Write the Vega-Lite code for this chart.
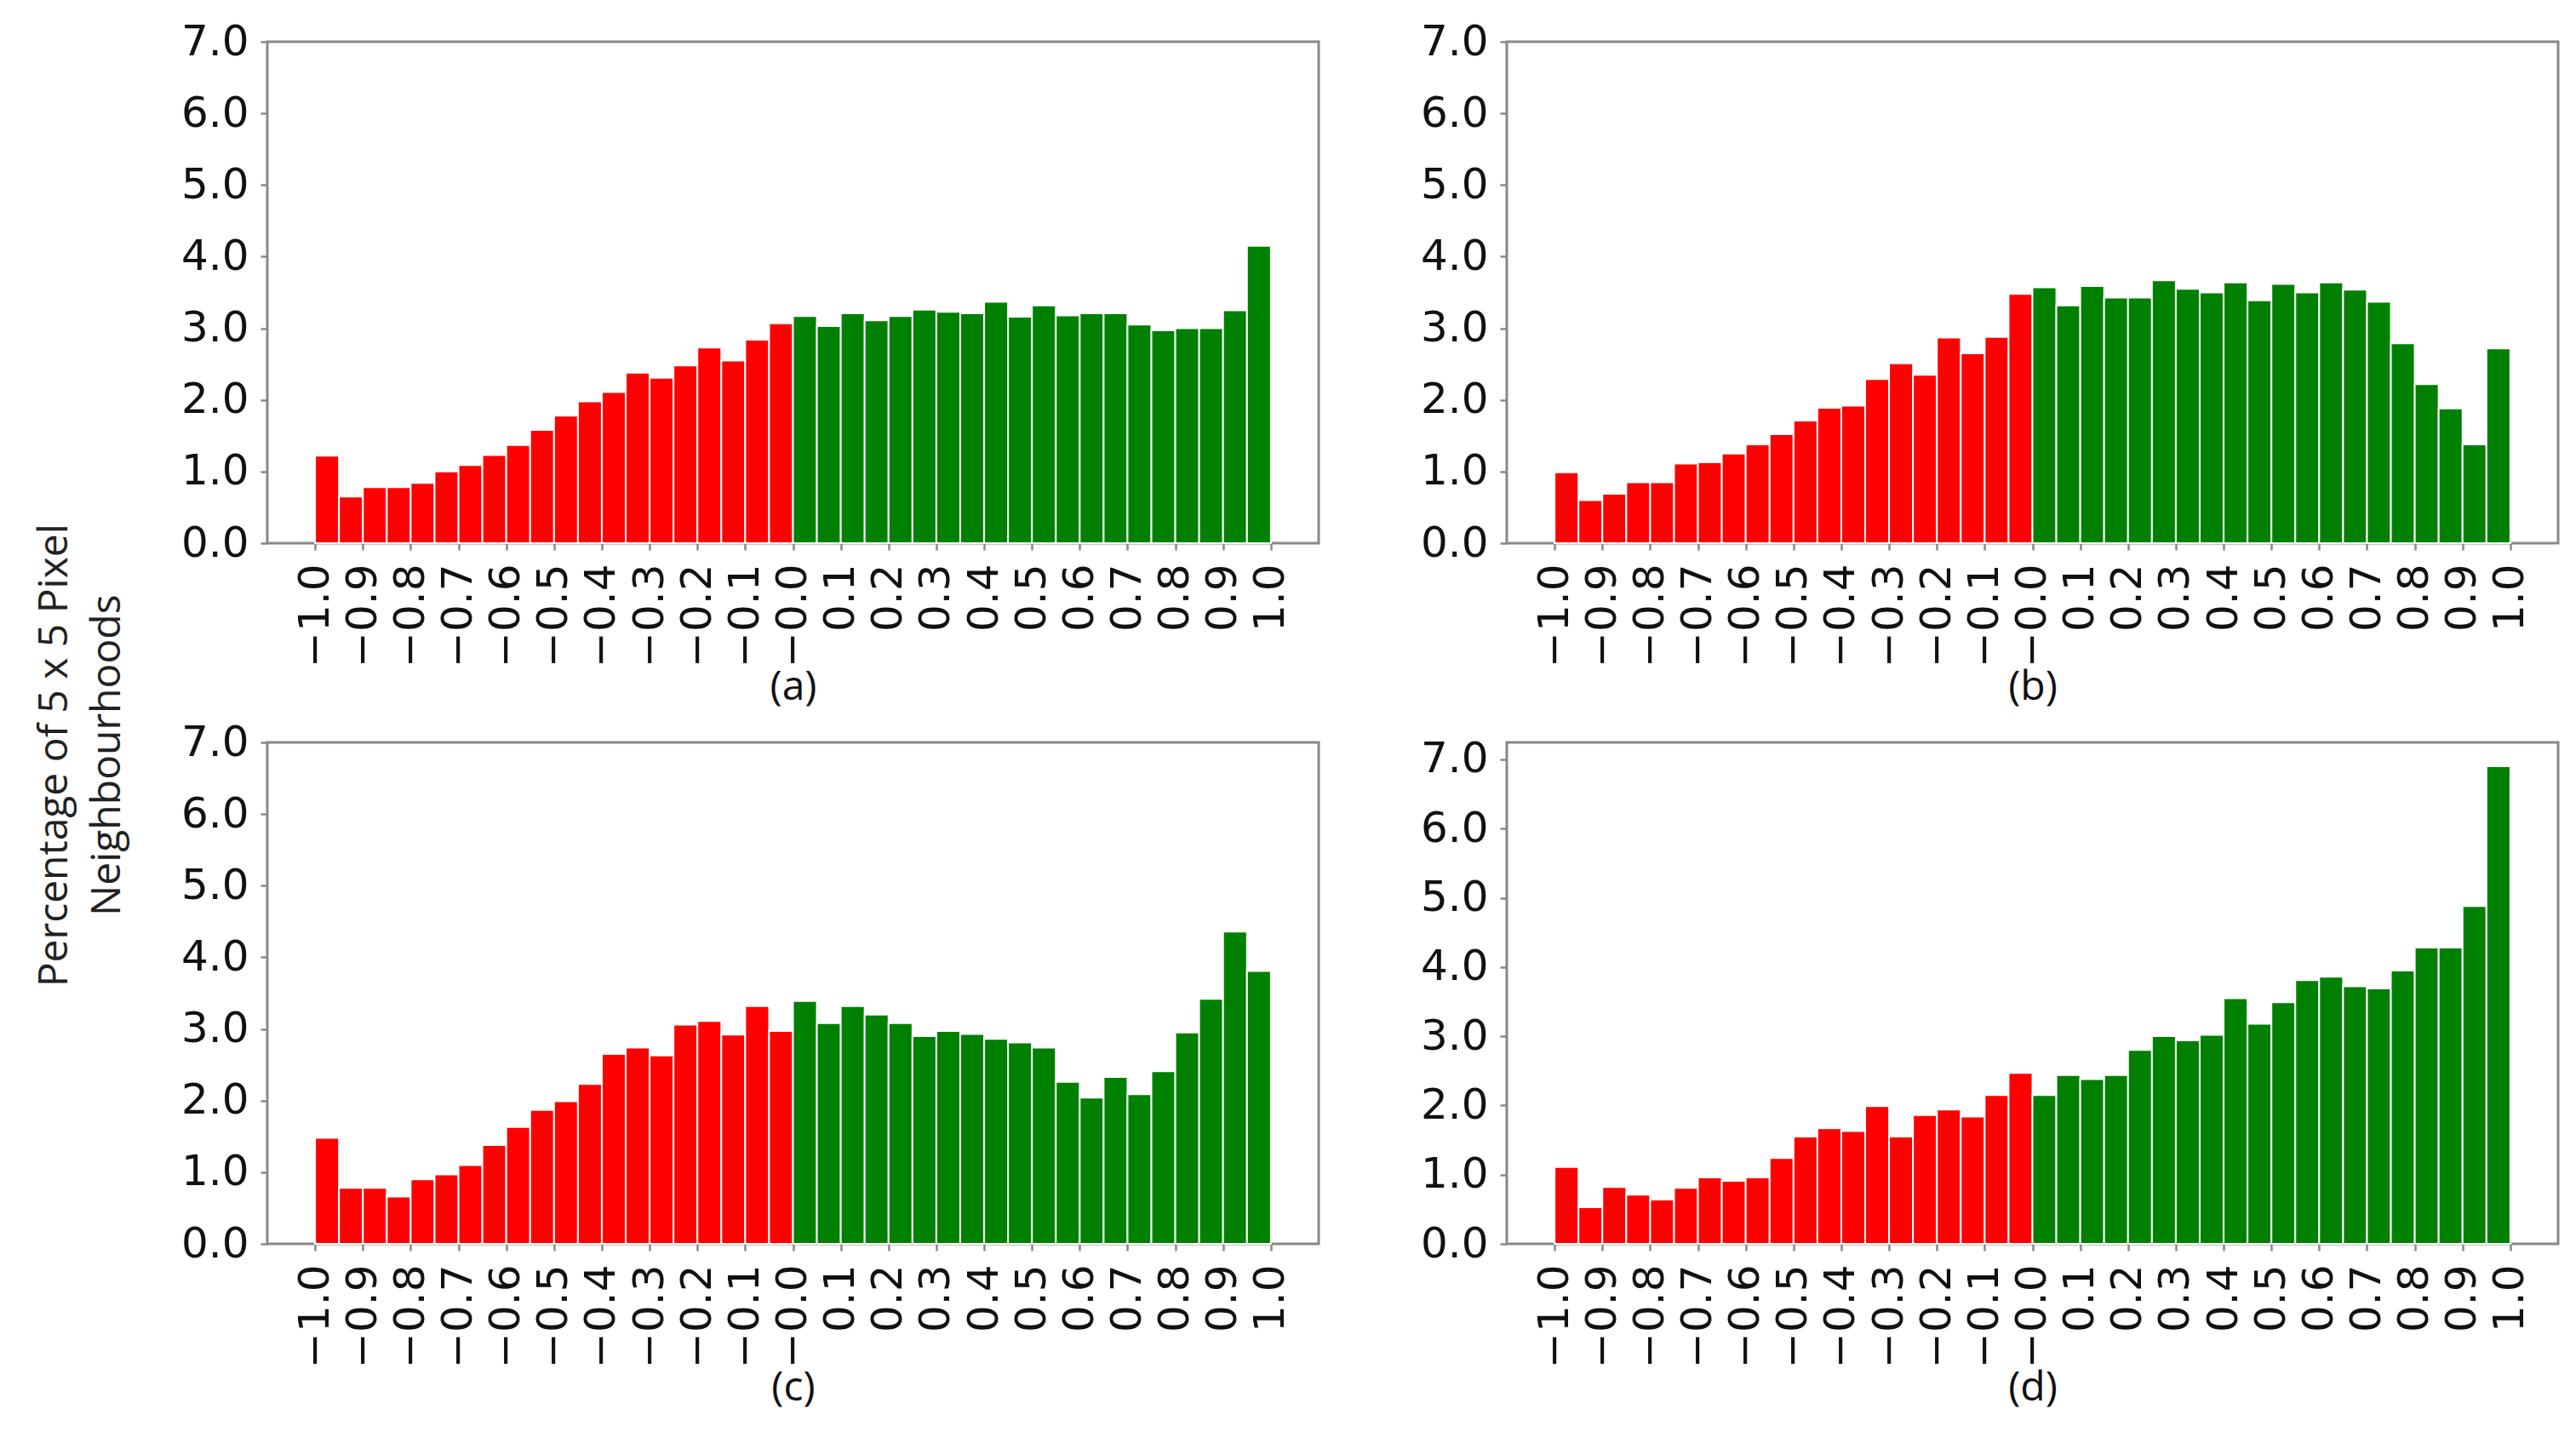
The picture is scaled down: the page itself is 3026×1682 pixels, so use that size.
{
  "$schema": "https://vega.github.io/schema/vega-lite/v6.json",
  "background": "white",
  "padding": {"left": 40, "top": 22, "right": 0, "bottom": 16},
  "datasets": {
    "a": [
      {"lo": -1.0, "hi": -0.95, "v": 1.22}, {"lo": -0.95, "hi": -0.9, "v": 0.65}, {"lo": -0.9, "hi": -0.85, "v": 0.78}, {"lo": -0.85, "hi": -0.8, "v": 0.78},
      {"lo": -0.8, "hi": -0.75, "v": 0.84}, {"lo": -0.75, "hi": -0.7, "v": 1.00}, {"lo": -0.7, "hi": -0.65, "v": 1.09}, {"lo": -0.65, "hi": -0.6, "v": 1.23},
      {"lo": -0.6, "hi": -0.55, "v": 1.37}, {"lo": -0.55, "hi": -0.5, "v": 1.58}, {"lo": -0.5, "hi": -0.45, "v": 1.78}, {"lo": -0.45, "hi": -0.4, "v": 1.98},
      {"lo": -0.4, "hi": -0.35, "v": 2.11}, {"lo": -0.35, "hi": -0.3, "v": 2.38}, {"lo": -0.3, "hi": -0.25, "v": 2.31}, {"lo": -0.25, "hi": -0.2, "v": 2.48},
      {"lo": -0.2, "hi": -0.15, "v": 2.73}, {"lo": -0.15, "hi": -0.1, "v": 2.55}, {"lo": -0.1, "hi": -0.05, "v": 2.84}, {"lo": -0.05, "hi": 0.0, "v": 3.07},
      {"lo": 0.0, "hi": 0.05, "v": 3.17}, {"lo": 0.05, "hi": 0.1, "v": 3.03}, {"lo": 0.1, "hi": 0.15, "v": 3.21}, {"lo": 0.15, "hi": 0.2, "v": 3.11},
      {"lo": 0.2, "hi": 0.25, "v": 3.17}, {"lo": 0.25, "hi": 0.3, "v": 3.26}, {"lo": 0.3, "hi": 0.35, "v": 3.23}, {"lo": 0.35, "hi": 0.4, "v": 3.21},
      {"lo": 0.4, "hi": 0.45, "v": 3.37}, {"lo": 0.45, "hi": 0.5, "v": 3.16}, {"lo": 0.5, "hi": 0.55, "v": 3.32}, {"lo": 0.55, "hi": 0.6, "v": 3.18},
      {"lo": 0.6, "hi": 0.65, "v": 3.21}, {"lo": 0.65, "hi": 0.7, "v": 3.21}, {"lo": 0.7, "hi": 0.75, "v": 3.05}, {"lo": 0.75, "hi": 0.8, "v": 2.97},
      {"lo": 0.8, "hi": 0.85, "v": 3.00}, {"lo": 0.85, "hi": 0.9, "v": 3.00}, {"lo": 0.9, "hi": 0.95, "v": 3.25}, {"lo": 0.95, "hi": 1.0, "v": 4.15}
    ],
    "b": [
      {"lo": -1.0, "hi": -0.95, "v": 0.99}, {"lo": -0.95, "hi": -0.9, "v": 0.60}, {"lo": -0.9, "hi": -0.85, "v": 0.69}, {"lo": -0.85, "hi": -0.8, "v": 0.85},
      {"lo": -0.8, "hi": -0.75, "v": 0.85}, {"lo": -0.75, "hi": -0.7, "v": 1.11}, {"lo": -0.7, "hi": -0.65, "v": 1.13}, {"lo": -0.65, "hi": -0.6, "v": 1.25},
      {"lo": -0.6, "hi": -0.55, "v": 1.38}, {"lo": -0.55, "hi": -0.5, "v": 1.52}, {"lo": -0.5, "hi": -0.45, "v": 1.71}, {"lo": -0.45, "hi": -0.4, "v": 1.89},
      {"lo": -0.4, "hi": -0.35, "v": 1.92}, {"lo": -0.35, "hi": -0.3, "v": 2.29}, {"lo": -0.3, "hi": -0.25, "v": 2.51}, {"lo": -0.25, "hi": -0.2, "v": 2.35},
      {"lo": -0.2, "hi": -0.15, "v": 2.87}, {"lo": -0.15, "hi": -0.1, "v": 2.65}, {"lo": -0.1, "hi": -0.05, "v": 2.88}, {"lo": -0.05, "hi": 0.0, "v": 3.48},
      {"lo": 0.0, "hi": 0.05, "v": 3.57}, {"lo": 0.05, "hi": 0.1, "v": 3.32}, {"lo": 0.1, "hi": 0.15, "v": 3.59}, {"lo": 0.15, "hi": 0.2, "v": 3.43},
      {"lo": 0.2, "hi": 0.25, "v": 3.43}, {"lo": 0.25, "hi": 0.3, "v": 3.67}, {"lo": 0.3, "hi": 0.35, "v": 3.55}, {"lo": 0.35, "hi": 0.4, "v": 3.50},
      {"lo": 0.4, "hi": 0.45, "v": 3.64}, {"lo": 0.45, "hi": 0.5, "v": 3.39}, {"lo": 0.5, "hi": 0.55, "v": 3.62}, {"lo": 0.55, "hi": 0.6, "v": 3.50},
      {"lo": 0.6, "hi": 0.65, "v": 3.64}, {"lo": 0.65, "hi": 0.7, "v": 3.54}, {"lo": 0.7, "hi": 0.75, "v": 3.37}, {"lo": 0.75, "hi": 0.8, "v": 2.79},
      {"lo": 0.8, "hi": 0.85, "v": 2.22}, {"lo": 0.85, "hi": 0.9, "v": 1.88}, {"lo": 0.9, "hi": 0.95, "v": 1.38}, {"lo": 0.95, "hi": 1.0, "v": 2.72}
    ],
    "c": [
      {"lo": -1.0, "hi": -0.95, "v": 1.48}, {"lo": -0.95, "hi": -0.9, "v": 0.78}, {"lo": -0.9, "hi": -0.85, "v": 0.78}, {"lo": -0.85, "hi": -0.8, "v": 0.66},
      {"lo": -0.8, "hi": -0.75, "v": 0.90}, {"lo": -0.75, "hi": -0.7, "v": 0.97}, {"lo": -0.7, "hi": -0.65, "v": 1.10}, {"lo": -0.65, "hi": -0.6, "v": 1.38},
      {"lo": -0.6, "hi": -0.55, "v": 1.63}, {"lo": -0.55, "hi": -0.5, "v": 1.87}, {"lo": -0.5, "hi": -0.45, "v": 1.99}, {"lo": -0.45, "hi": -0.4, "v": 2.23},
      {"lo": -0.4, "hi": -0.35, "v": 2.65}, {"lo": -0.35, "hi": -0.3, "v": 2.74}, {"lo": -0.3, "hi": -0.25, "v": 2.63}, {"lo": -0.25, "hi": -0.2, "v": 3.06},
      {"lo": -0.2, "hi": -0.15, "v": 3.11}, {"lo": -0.15, "hi": -0.1, "v": 2.92}, {"lo": -0.1, "hi": -0.05, "v": 3.32}, {"lo": -0.05, "hi": 0.0, "v": 2.97},
      {"lo": 0.0, "hi": 0.05, "v": 3.39}, {"lo": 0.05, "hi": 0.1, "v": 3.08}, {"lo": 0.1, "hi": 0.15, "v": 3.32}, {"lo": 0.15, "hi": 0.2, "v": 3.20},
      {"lo": 0.2, "hi": 0.25, "v": 3.08}, {"lo": 0.25, "hi": 0.3, "v": 2.90}, {"lo": 0.3, "hi": 0.35, "v": 2.97}, {"lo": 0.35, "hi": 0.4, "v": 2.93},
      {"lo": 0.4, "hi": 0.45, "v": 2.86}, {"lo": 0.45, "hi": 0.5, "v": 2.81}, {"lo": 0.5, "hi": 0.55, "v": 2.74}, {"lo": 0.55, "hi": 0.6, "v": 2.26},
      {"lo": 0.6, "hi": 0.65, "v": 2.04}, {"lo": 0.65, "hi": 0.7, "v": 2.33}, {"lo": 0.7, "hi": 0.75, "v": 2.09}, {"lo": 0.75, "hi": 0.8, "v": 2.41},
      {"lo": 0.8, "hi": 0.85, "v": 2.95}, {"lo": 0.85, "hi": 0.9, "v": 3.42}, {"lo": 0.9, "hi": 0.95, "v": 4.36}, {"lo": 0.95, "hi": 1.0, "v": 3.81}
    ],
    "d": [
      {"lo": -1.0, "hi": -0.95, "v": 1.11}, {"lo": -0.95, "hi": -0.9, "v": 0.53}, {"lo": -0.9, "hi": -0.85, "v": 0.82}, {"lo": -0.85, "hi": -0.8, "v": 0.71},
      {"lo": -0.8, "hi": -0.75, "v": 0.64}, {"lo": -0.75, "hi": -0.7, "v": 0.81}, {"lo": -0.7, "hi": -0.65, "v": 0.96}, {"lo": -0.65, "hi": -0.6, "v": 0.91},
      {"lo": -0.6, "hi": -0.55, "v": 0.96}, {"lo": -0.55, "hi": -0.5, "v": 1.24}, {"lo": -0.5, "hi": -0.45, "v": 1.55}, {"lo": -0.45, "hi": -0.4, "v": 1.67},
      {"lo": -0.4, "hi": -0.35, "v": 1.63}, {"lo": -0.35, "hi": -0.3, "v": 1.99}, {"lo": -0.3, "hi": -0.25, "v": 1.55}, {"lo": -0.25, "hi": -0.2, "v": 1.86},
      {"lo": -0.2, "hi": -0.15, "v": 1.94}, {"lo": -0.15, "hi": -0.1, "v": 1.84}, {"lo": -0.1, "hi": -0.05, "v": 2.15}, {"lo": -0.05, "hi": 0.0, "v": 2.47},
      {"lo": 0.0, "hi": 0.05, "v": 2.15}, {"lo": 0.05, "hi": 0.1, "v": 2.44}, {"lo": 0.1, "hi": 0.15, "v": 2.38}, {"lo": 0.15, "hi": 0.2, "v": 2.44},
      {"lo": 0.2, "hi": 0.25, "v": 2.80}, {"lo": 0.25, "hi": 0.3, "v": 3.00}, {"lo": 0.3, "hi": 0.35, "v": 2.94}, {"lo": 0.35, "hi": 0.4, "v": 3.02},
      {"lo": 0.4, "hi": 0.45, "v": 3.55}, {"lo": 0.45, "hi": 0.5, "v": 3.18}, {"lo": 0.5, "hi": 0.55, "v": 3.49}, {"lo": 0.55, "hi": 0.6, "v": 3.81},
      {"lo": 0.6, "hi": 0.65, "v": 3.86}, {"lo": 0.65, "hi": 0.7, "v": 3.72}, {"lo": 0.7, "hi": 0.75, "v": 3.69}, {"lo": 0.75, "hi": 0.8, "v": 3.95},
      {"lo": 0.8, "hi": 0.85, "v": 4.28}, {"lo": 0.85, "hi": 0.9, "v": 4.28}, {"lo": 0.9, "hi": 0.95, "v": 4.88}, {"lo": 0.95, "hi": 1.0, "v": 6.90}
    ]
  },
  "title": {
    "text": ["Percentage of 5 x 5 Pixel", "Neighbourhoods"],
    "orient": "left",
    "anchor": "middle",
    "font": "Open Sans",
    "fontSize": 48,
    "fontWeight": "normal",
    "lineHeight": 62,
    "offset": 60,
    "color": "#222222",
    "dx": -48
  },
  "config": {
    "view": {"stroke": "#888888", "strokeWidth": 3},
    "axis": {
      "labelFont": "DejaVu Sans",
      "labelFontSize": 50,
      "labelColor": "#111111",
      "tickColor": "#888888",
      "tickSize": 8,
      "tickWidth": 2.5,
      "domain": false,
      "grid": false,
      "titleFont": "Open Sans",
      "titleFontSize": 48,
      "titleFontWeight": "normal",
      "titleColor": "#111111"
    },
    "axisX": {"labelAngle": 270, "labelPadding": 16, "titlePadding": 0, "labelFlush": false, "labelOverlap": false},
    "axisY": {"labelPadding": 14, "labelOverlap": false}
  },
  "vconcat": [
    {
      "hconcat": [
        {
          "width": 1235, "height": 589,
          "data": {"name": "a"},
          "mark": {"type": "bar", "stroke": "white", "strokeWidth": 2},
          "encoding": {
            "x": {"field": "lo", "type": "quantitative", "scale": {"domain": [-1.1, 1.1], "nice": false, "zero": false},
                  "axis": {"title": "(a)", "values": [-1, -0.9, -0.8, -0.7, -0.6, -0.5, -0.4, -0.3, -0.2, -0.1, 0, 0.1, 0.2, 0.3, 0.4, 0.5, 0.6, 0.7, 0.8, 0.9, 1],
                           "labelExpr": "datum.value < -0.001 ? '\u2212' + format(-datum.value, '.1f') : (abs(datum.value) < 0.001 ? '\u22120.0' : format(datum.value, '.1f'))"}},
            "x2": {"field": "hi"},
            "y": {"field": "v", "type": "quantitative", "scale": {"domain": [0, 7], "nice": false},
                  "axis": {"title": null, "values": [0, 1, 2, 3, 4, 5, 6, 7], "format": ".1f"}},
            "y2": {"datum": 0},
            "color": {"condition": {"test": "datum.lo < 0", "value": "#ff0000"}, "value": "#008000"}
          }
        },
        {
          "width": 1235, "height": 589,
          "data": {"name": "b"},
          "mark": {"type": "bar", "stroke": "white", "strokeWidth": 2},
          "encoding": {
            "x": {"field": "lo", "type": "quantitative", "scale": {"domain": [-1.1, 1.1], "nice": false, "zero": false},
                  "axis": {"title": "(b)", "values": [-1, -0.9, -0.8, -0.7, -0.6, -0.5, -0.4, -0.3, -0.2, -0.1, 0, 0.1, 0.2, 0.3, 0.4, 0.5, 0.6, 0.7, 0.8, 0.9, 1],
                           "labelExpr": "datum.value < -0.001 ? '\u2212' + format(-datum.value, '.1f') : (abs(datum.value) < 0.001 ? '\u22120.0' : format(datum.value, '.1f'))"}},
            "x2": {"field": "hi"},
            "y": {"field": "v", "type": "quantitative", "scale": {"domain": [0, 7], "nice": false},
                  "axis": {"title": null, "values": [0, 1, 2, 3, 4, 5, 6, 7], "format": ".1f"}},
            "y2": {"datum": 0},
            "color": {"condition": {"test": "datum.lo < 0", "value": "#ff0000"}, "value": "#008000"}
          }
        }
      ],
      "spacing": 115
    },
    {
      "hconcat": [
        {
          "width": 1235, "height": 589,
          "data": {"name": "c"},
          "mark": {"type": "bar", "stroke": "white", "strokeWidth": 2},
          "encoding": {
            "x": {"field": "lo", "type": "quantitative", "scale": {"domain": [-1.1, 1.1], "nice": false, "zero": false},
                  "axis": {"title": "(c)", "values": [-1, -0.9, -0.8, -0.7, -0.6, -0.5, -0.4, -0.3, -0.2, -0.1, 0, 0.1, 0.2, 0.3, 0.4, 0.5, 0.6, 0.7, 0.8, 0.9, 1],
                           "labelExpr": "datum.value < -0.001 ? '\u2212' + format(-datum.value, '.1f') : (abs(datum.value) < 0.001 ? '\u22120.0' : format(datum.value, '.1f'))"}},
            "x2": {"field": "hi"},
            "y": {"field": "v", "type": "quantitative", "scale": {"domain": [0, 7], "nice": false},
                  "axis": {"title": null, "values": [0, 1, 2, 3, 4, 5, 6, 7], "format": ".1f"}},
            "y2": {"datum": 0},
            "color": {"condition": {"test": "datum.lo < 0", "value": "#ff0000"}, "value": "#008000"}
          }
        },
        {
          "width": 1235, "height": 589,
          "data": {"name": "d"},
          "mark": {"type": "bar", "stroke": "white", "strokeWidth": 2},
          "encoding": {
            "x": {"field": "lo", "type": "quantitative", "scale": {"domain": [-1.1, 1.1], "nice": false, "zero": false},
                  "axis": {"title": "(d)", "values": [-1, -0.9, -0.8, -0.7, -0.6, -0.5, -0.4, -0.3, -0.2, -0.1, 0, 0.1, 0.2, 0.3, 0.4, 0.5, 0.6, 0.7, 0.8, 0.9, 1],
                           "labelExpr": "datum.value < -0.001 ? '\u2212' + format(-datum.value, '.1f') : (abs(datum.value) < 0.001 ? '\u22120.0' : format(datum.value, '.1f'))"}},
            "x2": {"field": "hi"},
            "y": {"field": "v", "type": "quantitative", "scale": {"domain": [0, 7.245], "nice": false},
                  "axis": {"title": null, "values": [0, 1, 2, 3, 4, 5, 6, 7], "format": ".1f"}},
            "y2": {"datum": 0},
            "color": {"condition": {"test": "datum.lo < 0", "value": "#ff0000"}, "value": "#008000"}
          }
        }
      ],
      "spacing": 115
    }
  ],
  "spacing": 12
}
